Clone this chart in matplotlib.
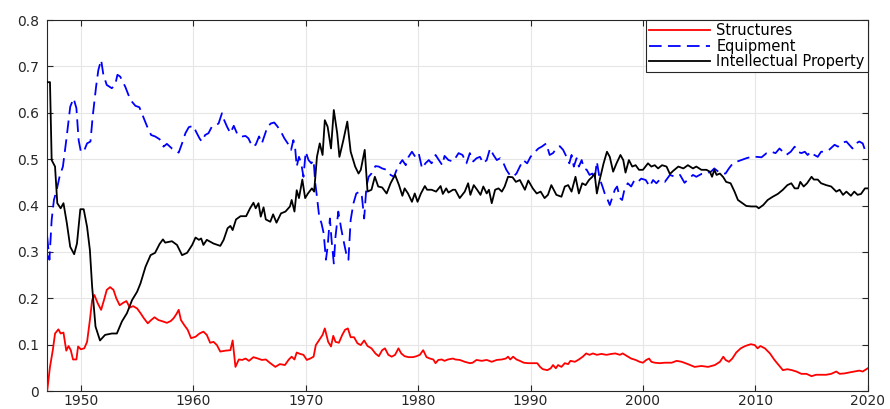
import matplotlib
matplotlib.use("Agg")
import matplotlib.pyplot as plt
from matplotlib.ticker import FuncFormatter

plt.rcParams['font.family'] = ['DejaVu Sans']

# ---------------- data ----------------
ip_years = [1947.0, 1947.25, 1947.4, 1947.7, 1947.9, 1948.2, 1948.45, 1948.75, 1949.05, 1949.4, 1949.65,
            1949.95, 1950.25, 1950.55, 1950.8, 1951.0, 1951.3, 1951.7, 1952.15, 1952.75, 1953.2, 1953.65,
            1954.1, 1954.55, 1955.0, 1955.3, 1955.75, 1956.2, 1956.6, 1957.0, 1957.3, 1957.5, 1958.1,
            1958.55, 1959.0, 1959.45, 1959.9, 1960.2, 1960.5, 1960.7, 1960.9, 1961.2, 1961.8, 1962.4,
            1962.7, 1963.05, 1963.3, 1963.5, 1963.8, 1964.2, 1964.7,
            1965.05, 1965.35, 1965.55, 1965.8, 1966.0, 1966.25, 1966.45, 1966.85, 1967.1, 1967.4, 1967.8,
            1968.2, 1968.6, 1968.75, 1969.0, 1969.2, 1969.4, 1969.7, 1969.95, 1970.2, 1970.55, 1970.75,
            1971.0, 1971.25, 1971.5, 1971.7, 1971.95, 1972.25, 1972.5, 1972.8, 1973.0, 1973.35, 1973.7,
            1974.0, 1974.4, 1974.7, 1974.9, 1975.25, 1975.5, 1975.85, 1976.15, 1976.45, 1976.8, 1977.2,
            1977.55, 1977.95, 1978.3, 1978.6, 1978.8, 1979.1, 1979.45, 1979.7, 1979.95, 1980.25, 1980.6,
            1980.8, 1981.2, 1981.6, 1982.0, 1982.2, 1982.5, 1982.7,
            1983.1, 1983.3, 1983.7, 1984.15, 1984.45, 1984.65, 1984.95, 1985.25, 1985.55, 1985.8, 1986.1,
            1986.3, 1986.55, 1986.85, 1987.15, 1987.45, 1987.7, 1988.0, 1988.4, 1988.7, 1989.05, 1989.5,
            1989.8, 1990.2, 1990.55, 1990.9, 1991.25, 1991.55, 1991.85, 1992.3, 1992.75, 1993.05, 1993.35,
            1993.65, 1994.0, 1994.3, 1994.6, 1994.9, 1995.2, 1995.5, 1995.7, 1995.9, 1996.15, 1996.5,
            1996.8, 1997.05, 1997.35, 1997.65, 1998.0, 1998.25, 1998.45, 1998.75, 1999.05, 1999.35,
            1999.65, 2000.0, 2000.45, 2000.75, 2001.05,
            2001.35, 2001.7, 2002.1, 2002.4, 2002.7, 2003.15, 2003.6, 2004.0, 2004.45, 2004.75, 2005.2,
            2005.65, 2005.95, 2006.15, 2006.35, 2006.55, 2006.85, 2007.15, 2007.4, 2007.8, 2008.15,
            2008.45, 2008.8, 2009.2, 2009.65, 2010.1, 2010.3, 2010.7, 2011.1, 2011.55, 2012.0, 2012.45,
            2012.85, 2013.2, 2013.5, 2013.8, 2014.0, 2014.3, 2014.6, 2015.0, 2015.2, 2015.55, 2015.85,
            2016.3, 2016.75, 2017.2, 2017.5, 2017.8, 2018.1, 2018.5, 2018.8, 2019.1, 2019.4, 2019.75, 2020.0]
ip_vals = [0.666, 0.666, 0.498, 0.484, 0.405, 0.394, 0.405, 0.362, 0.311, 0.295, 0.318,
           0.392, 0.392, 0.354, 0.304, 0.225, 0.139, 0.109, 0.121, 0.124, 0.124, 0.150,
           0.168, 0.196, 0.214, 0.232, 0.268, 0.293, 0.298, 0.317, 0.327, 0.320, 0.323,
           0.315, 0.293, 0.298, 0.315, 0.331, 0.326, 0.329, 0.315, 0.326, 0.318, 0.313,
           0.326, 0.351, 0.356, 0.347, 0.370, 0.377, 0.377,
           0.394, 0.406, 0.394, 0.405, 0.376, 0.396, 0.370, 0.365, 0.381, 0.363, 0.383,
           0.387, 0.398, 0.412, 0.387, 0.433, 0.416, 0.456, 0.416, 0.426, 0.437, 0.430,
           0.505, 0.534, 0.509, 0.584, 0.570, 0.523, 0.606, 0.556, 0.505, 0.541, 0.581,
           0.516, 0.484, 0.469, 0.477, 0.520, 0.430, 0.434, 0.462, 0.441, 0.439, 0.426,
           0.448, 0.466, 0.444, 0.421, 0.437, 0.426, 0.408, 0.426, 0.408, 0.426, 0.442,
           0.434, 0.434, 0.430, 0.442, 0.425, 0.437, 0.428,
           0.434, 0.434, 0.416, 0.430, 0.448, 0.423, 0.444, 0.434, 0.423, 0.441, 0.426,
           0.434, 0.405, 0.434, 0.437, 0.430, 0.441, 0.462, 0.461, 0.451, 0.455, 0.434,
           0.454, 0.437, 0.426, 0.430, 0.416, 0.423, 0.444, 0.423, 0.419, 0.441, 0.444,
           0.430, 0.462, 0.426, 0.448, 0.444, 0.455, 0.462, 0.469, 0.426, 0.455, 0.491,
           0.516, 0.505, 0.473, 0.491, 0.509, 0.498, 0.471, 0.498, 0.484, 0.487,
           0.477, 0.477, 0.491, 0.484, 0.487,
           0.480, 0.487, 0.484, 0.468, 0.475, 0.484, 0.480, 0.487, 0.480, 0.484, 0.477,
           0.477, 0.473, 0.462, 0.477, 0.466, 0.469, 0.461, 0.451, 0.448, 0.430,
           0.412, 0.406, 0.399, 0.398, 0.398, 0.394, 0.401, 0.412, 0.419, 0.425, 0.434,
           0.444, 0.448, 0.437, 0.437, 0.451, 0.441, 0.448, 0.462, 0.456, 0.456, 0.448,
           0.444, 0.441, 0.430, 0.434, 0.423, 0.430, 0.421, 0.430, 0.423, 0.425, 0.437, 0.437]

eq_years = [1947.0, 1947.2, 1947.4, 1947.6, 1947.85, 1948.1, 1948.4, 1948.7, 1949.05, 1949.35, 1949.6,
            1949.8, 1950.0, 1950.25, 1950.55, 1950.85, 1951.05, 1951.35, 1951.55, 1951.8, 1952.0, 1952.3,
            1952.75, 1953.05, 1953.25, 1953.5, 1953.95, 1954.4, 1954.85, 1955.2, 1955.6, 1955.9, 1956.25,
            1956.6, 1957.0, 1957.35, 1957.65, 1958.1, 1958.4, 1958.7, 1959.0, 1959.3, 1959.6, 1960.0,
            1960.25, 1960.55, 1960.75, 1961.05, 1961.35, 1961.65, 1961.95, 1962.25, 1962.55, 1962.75,
            1963.0, 1963.3, 1963.6, 1963.95, 1964.35, 1964.65,
            1964.9, 1965.25, 1965.55, 1965.85, 1966.1, 1966.35, 1966.6, 1966.9, 1967.2, 1967.5, 1967.8,
            1968.1, 1968.4, 1968.7, 1968.9, 1969.05, 1969.2, 1969.4, 1969.6, 1969.8, 1970.0, 1970.25,
            1970.5, 1970.7, 1970.85, 1971.0, 1971.2, 1971.4, 1971.6, 1971.8, 1971.95, 1972.15, 1972.3,
            1972.5, 1972.65, 1972.9, 1973.15, 1973.35, 1973.6, 1973.8, 1974.0, 1974.25, 1974.5, 1974.8,
            1975.0, 1975.2, 1975.4, 1975.6, 1975.85, 1976.2, 1976.5, 1976.8, 1977.2, 1977.55, 1977.85,
            1978.2, 1978.6, 1978.9, 1979.15, 1979.45, 1979.75, 1980.05, 1980.35, 1980.65, 1980.95, 1981.2,
            1981.55, 1981.85, 1982.15, 1982.35, 1982.7,
            1983.1, 1983.2, 1983.6, 1983.95, 1984.3, 1984.6, 1984.9, 1985.2, 1985.5, 1985.8, 1986.1, 1986.4,
            1986.7, 1987.0, 1987.3, 1987.6, 1987.85, 1988.15, 1988.45, 1988.75, 1989.05, 1989.35, 1989.7,
            1990.0, 1990.4, 1990.7, 1991.0, 1991.4, 1991.7, 1992.0, 1992.3, 1992.6, 1992.9, 1993.2,
            1993.45, 1993.65, 1993.85, 1994.1, 1994.3, 1994.55, 1994.75, 1995.0, 1995.25, 1995.5, 1995.7,
            1995.9, 1996.15, 1996.4, 1996.6, 1996.8, 1997.05, 1997.3, 1997.5, 1997.7, 1997.95, 1998.15,
            1998.35, 1998.65, 1998.95, 1999.25, 1999.55, 1999.85, 2000.25, 2000.6, 2000.9, 2001.2,
            2001.5, 2001.95, 2002.4, 2002.85, 2003.3, 2003.7, 2004.0, 2004.45, 2004.75, 2005.2, 2005.65,
            2006.05, 2006.35, 2006.7, 2007.0, 2007.35, 2007.65, 2008.0, 2008.4, 2008.75, 2009.2, 2009.65,
            2010.1, 2010.55, 2011.0, 2011.4, 2011.8, 2012.15, 2012.45, 2012.75, 2013.15, 2013.5, 2013.75,
            2014.1, 2014.4, 2014.65, 2014.95, 2015.25, 2015.55, 2015.85, 2016.2, 2016.6, 2017.05, 2017.35,
            2017.8, 2018.1, 2018.35, 2018.65, 2018.95, 2019.25, 2019.55, 2019.75, 2020.0]
eq_vals = [0.333, 0.283, 0.369, 0.412, 0.434, 0.462, 0.484, 0.541, 0.613, 0.631, 0.610,
           0.541, 0.516, 0.516, 0.534, 0.538, 0.592, 0.656, 0.692, 0.714, 0.682, 0.660,
           0.653, 0.660, 0.682, 0.678, 0.656, 0.628, 0.615, 0.612, 0.588, 0.570, 0.552,
           0.549, 0.543, 0.527, 0.533, 0.523, 0.520, 0.514, 0.534, 0.556, 0.569, 0.572,
           0.559, 0.545, 0.538, 0.552, 0.556, 0.570, 0.572, 0.577, 0.599, 0.584,
           0.570, 0.556, 0.572, 0.552, 0.549, 0.550,
           0.545, 0.527, 0.531, 0.549, 0.534, 0.552, 0.570, 0.577, 0.579, 0.570, 0.559,
           0.545, 0.534, 0.520, 0.541, 0.527, 0.484, 0.505, 0.491, 0.462, 0.516, 0.498,
           0.491, 0.498, 0.448, 0.419, 0.376, 0.362, 0.340, 0.283, 0.311, 0.372, 0.326,
           0.275, 0.333, 0.387, 0.351, 0.326, 0.297, 0.283, 0.369, 0.405, 0.426, 0.430,
           0.419, 0.372, 0.441, 0.462, 0.469, 0.485, 0.484, 0.480, 0.477, 0.466, 0.462,
           0.484, 0.498, 0.487, 0.505, 0.516, 0.505, 0.513, 0.480, 0.491, 0.498, 0.491,
           0.509, 0.498, 0.487, 0.507, 0.498,
           0.495, 0.498, 0.513, 0.509, 0.491, 0.513, 0.495, 0.502, 0.505, 0.491, 0.498, 0.523,
           0.509, 0.498, 0.502, 0.491, 0.477, 0.466, 0.462, 0.469, 0.484, 0.498, 0.491,
           0.505, 0.516, 0.523, 0.527, 0.534, 0.509, 0.513, 0.523, 0.528, 0.520, 0.505,
           0.491, 0.509, 0.484, 0.502, 0.484, 0.498, 0.480, 0.477, 0.466, 0.469, 0.455,
           0.495, 0.458, 0.441, 0.426, 0.416, 0.401, 0.419, 0.434, 0.441, 0.416, 0.412,
           0.434, 0.448, 0.441, 0.455, 0.451, 0.458, 0.455, 0.441, 0.455, 0.448,
           0.456, 0.451, 0.466, 0.462, 0.466, 0.449, 0.456, 0.466, 0.462, 0.468, 0.469,
           0.473, 0.480, 0.473, 0.469, 0.469, 0.480, 0.491, 0.495, 0.498, 0.502, 0.505,
           0.505, 0.504, 0.513, 0.516, 0.513, 0.523, 0.516, 0.509, 0.516, 0.527, 0.516,
           0.513, 0.516, 0.509, 0.516, 0.509, 0.505, 0.516, 0.516, 0.521, 0.531, 0.527,
           0.536, 0.538, 0.531, 0.523, 0.534, 0.538, 0.534, 0.520, 0.527]

st_years = [1947.0, 1947.25, 1947.5, 1947.7, 1948.0, 1948.2, 1948.45, 1948.7, 1948.9, 1949.1, 1949.3,
            1949.6, 1949.75, 1950.0, 1950.3, 1950.55, 1950.8, 1951.0, 1951.2, 1951.5, 1951.8, 1952.1,
            1952.3, 1952.6, 1952.9, 1953.15, 1953.45, 1953.75, 1954.05, 1954.35, 1954.65, 1955.0, 1955.3,
            1955.6, 1955.95, 1956.25, 1956.55, 1956.9, 1957.3, 1957.65, 1958.0, 1958.25, 1958.5, 1958.7,
            1958.9, 1959.2, 1959.5, 1959.8, 1960.2, 1960.55, 1960.9, 1961.2, 1961.5, 1961.8, 1962.1,
            1962.4, 1962.85, 1963.3, 1963.5, 1963.75, 1964.05, 1964.35, 1964.65,
            1964.95, 1965.35, 1965.75, 1966.1, 1966.45, 1966.85, 1967.3, 1967.7, 1968.15, 1968.5, 1968.75,
            1969.0, 1969.2, 1969.5, 1969.8, 1970.1, 1970.4, 1970.7, 1970.9, 1971.2, 1971.5, 1971.7,
            1972.0, 1972.25, 1972.45, 1972.65, 1972.95, 1973.25, 1973.5, 1973.75, 1974.0, 1974.3, 1974.6,
            1974.9, 1975.2, 1975.5, 1975.85, 1976.2, 1976.5, 1976.8, 1977.05, 1977.35, 1977.65, 1977.95,
            1978.25, 1978.5, 1978.8, 1979.15, 1979.55, 1979.85, 1980.15, 1980.45, 1980.75, 1981.05,
            1981.35, 1981.55, 1981.8, 1982.1, 1982.35, 1982.65,
            1983.1, 1983.3, 1983.7, 1984.15, 1984.6, 1984.85, 1985.2, 1985.65, 1986.1, 1986.55, 1987.0,
            1987.45, 1987.8, 1988.0, 1988.2, 1988.45, 1988.75, 1989.05, 1989.4, 1989.8, 1990.25, 1990.6,
            1990.85, 1991.1, 1991.5, 1991.8, 1992.0, 1992.25, 1992.45, 1992.75, 1993.05, 1993.35, 1993.55,
            1993.95, 1994.3, 1994.65, 1994.95, 1995.25, 1995.55, 1995.9, 1996.3, 1996.75, 1997.2, 1997.55,
            1997.95, 1998.2, 1998.6, 1998.95, 1999.35, 1999.7, 2000.0, 2000.3, 2000.55, 2000.75, 2001.05,
            2001.5, 2001.95, 2002.55, 2003.0, 2003.45, 2004.0, 2004.6, 2005.2, 2005.8, 2006.4, 2006.85,
            2007.15, 2007.35, 2007.65, 2007.95, 2008.3, 2008.7, 2009.1, 2009.6, 2009.95, 2010.2, 2010.45,
            2010.85, 2011.3, 2011.7, 2012.15, 2012.45, 2012.85, 2013.25, 2013.65, 2014.1, 2014.55, 2015.0,
            2015.4, 2015.85, 2016.3, 2016.75, 2017.2, 2017.5, 2017.95, 2018.35, 2018.8, 2019.25, 2019.55,
            2020.0]
st_vals = [0.0, 0.052, 0.088, 0.124, 0.133, 0.124, 0.126, 0.087, 0.097, 0.088, 0.068,
           0.068, 0.096, 0.090, 0.092, 0.106, 0.153, 0.196, 0.207, 0.189, 0.175, 0.200,
           0.218, 0.224, 0.218, 0.200, 0.185, 0.190, 0.194, 0.180, 0.183, 0.178, 0.168,
           0.157, 0.146, 0.153, 0.159, 0.153, 0.150, 0.147, 0.151, 0.157, 0.166, 0.175,
           0.153, 0.142, 0.132, 0.114, 0.117, 0.124, 0.128, 0.121, 0.104, 0.106, 0.099,
           0.085, 0.087, 0.088, 0.109, 0.052, 0.068, 0.067, 0.070,
           0.065, 0.073, 0.070, 0.067, 0.068, 0.060, 0.052, 0.058, 0.056, 0.068, 0.074,
           0.068, 0.083, 0.080, 0.078, 0.067, 0.070, 0.074, 0.099, 0.110, 0.121, 0.135,
           0.106, 0.096, 0.119, 0.106, 0.104, 0.121, 0.132, 0.135, 0.116, 0.116, 0.103,
           0.099, 0.109, 0.097, 0.092, 0.081, 0.075, 0.088, 0.092, 0.078, 0.074, 0.078,
           0.092, 0.081, 0.075, 0.073, 0.073, 0.075, 0.078, 0.088, 0.073, 0.070,
           0.068, 0.060, 0.067, 0.068, 0.065, 0.068,
           0.070, 0.068, 0.067, 0.063, 0.060, 0.061, 0.067, 0.065, 0.067, 0.063, 0.067,
           0.068, 0.070, 0.074, 0.068, 0.074, 0.068, 0.065, 0.061, 0.060, 0.060, 0.060,
           0.052, 0.047, 0.045, 0.049, 0.056, 0.049, 0.056, 0.052, 0.060, 0.058, 0.065,
           0.063, 0.068, 0.074, 0.081, 0.078, 0.081, 0.078, 0.080, 0.078, 0.080, 0.081,
           0.078, 0.081, 0.075, 0.070, 0.067, 0.063, 0.061, 0.067, 0.070, 0.063, 0.061,
           0.060, 0.061, 0.061, 0.065, 0.063, 0.058, 0.052, 0.054, 0.052, 0.056, 0.063,
           0.074, 0.067, 0.063, 0.070, 0.083, 0.092, 0.097, 0.101, 0.099, 0.092, 0.097,
           0.092, 0.081, 0.067, 0.054, 0.045, 0.047, 0.045, 0.042, 0.037, 0.037, 0.032,
           0.035, 0.035, 0.035, 0.037, 0.042, 0.037, 0.038, 0.040, 0.042, 0.044, 0.042,
           0.049]

x_ticks = [1950, 1960, 1970, 1980, 1990, 2000, 2010, 2020]
y_ticks = [0, 0.1, 0.2, 0.3, 0.4, 0.5, 0.6, 0.7, 0.8]
labels = ["Structures", "Equipment", "Intellectual Property"]

# ---------------- figure ----------------
fig = plt.figure(figsize=(8.9, 4.09), dpi=100)
ax = fig.add_axes([0.053, 0.044, 0.922, 0.907])

axis_col = '#262626'
ax.plot(st_years, st_vals, color='#ff0000', lw=1.3, label=labels[0], zorder=3)
ax.plot(eq_years, eq_vals, color='#0000ff', lw=1.3, linestyle=(0, (7, 3.5)), label=labels[1], zorder=3)
ax.plot(ip_years, ip_vals, color='#000000', lw=1.3, label=labels[2], zorder=4)

ax.set_xlim(1947, 2020)
ax.set_ylim(0, 0.8)
ax.set_xticks(x_ticks)
ax.set_yticks(y_ticks)
ax.yaxis.set_major_formatter(FuncFormatter(lambda v, p: '0' if abs(v) < 1e-9 else f'{v:.1f}'))
ax.grid(True, color='#e6e6e6', lw=0.8, zorder=0)
ax.set_axisbelow(True)
for s in ax.spines.values():
    s.set_color(axis_col)
    s.set_linewidth(0.8)
ax.tick_params(direction='in', length=4, width=0.8, colors=axis_col, labelsize=10,
               top=True, right=True)
ax.tick_params(axis='x', pad=2)
ax.tick_params(axis='y', pad=6)
for lab in ax.get_xticklabels() + ax.get_yticklabels():
    lab.set_color(axis_col)

leg = ax.legend(loc='upper right', fontsize=10.5, frameon=True, fancybox=False,
                handlelength=4.2, handletextpad=0.45, borderpad=0.2, labelspacing=0.05,
                borderaxespad=0.0, edgecolor=axis_col, framealpha=1)
leg.get_frame().set_linewidth(0.8)

fig.savefig('out.png', dpi=100)
